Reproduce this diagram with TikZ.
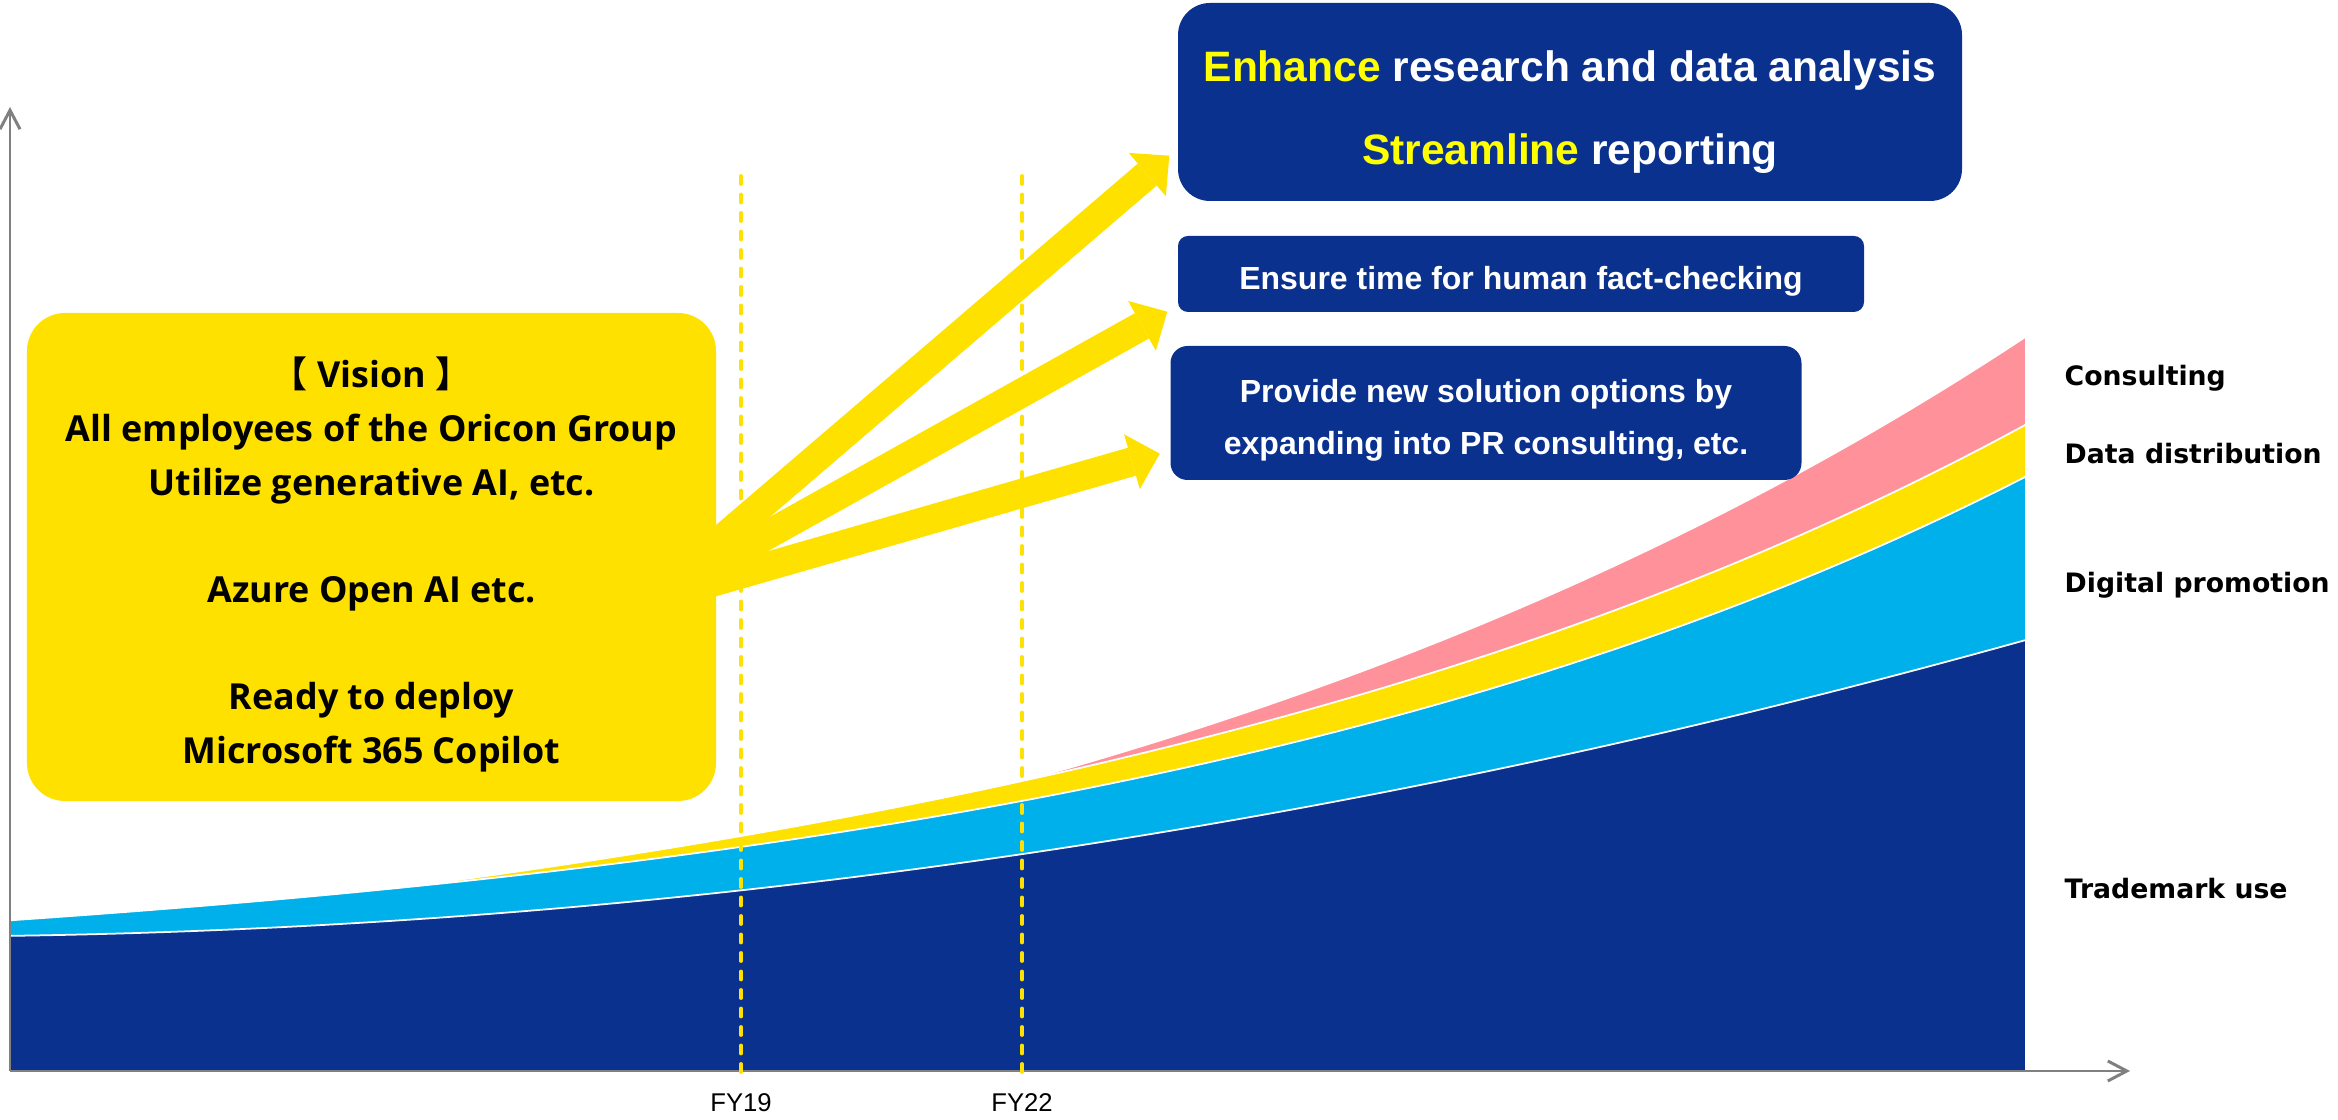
\documentclass[tikz,border=0pt]{standalone}
\usepackage{fontspec}
\usetikzlibrary{arrows.meta,calc}
\newfontfamily\visionfont{Open Sans}
\newfontfamily\cjkfont{Noto Sans CJK JP}
\newfontfamily\boxfont{Liberation Sans}
\newfontfamily\labfont{DejaVu Sans}
\definecolor{navy}{RGB}{11,49,143}
\definecolor{sky}{RGB}{0,176,234}
\definecolor{gold}{RGB}{255,225,0}
\definecolor{rose}{RGB}{255,145,155}
\definecolor{hiyellow}{RGB}{255,255,0}
\definecolor{axisgray}{RGB}{128,128,128}

\begin{document}
\begin{tikzpicture}
\tikzstyle{area}=[draw=white, line width=0.5pt]
\tikzstyle{visionbox}=[fill=gold, rounded corners=0.38cm, minimum width=6.89cm, minimum height=4.88cm, inner sep=0pt, align=center, font=\visionfont\bfseries\fontsize{10.2}{15.25}\selectfont]
\tikzstyle{bluebox}=[fill=navy, text=white, align=center, inner sep=0pt]
\tikzstyle{bigarrow}=[gold, line width=0.29cm, -{Triangle[width=0.57cm,length=0.29cm,line width=0pt]}]
\tikzstyle{yeardash}=[gold, line width=1.1pt, line cap=round, dash pattern=on 0.08cm off 0.105cm]
\tikzstyle{axis}=[axisgray, line width=0.85pt, -{Straight Barb[length=1.9mm,width=2mm]}]
\tikzstyle{seg}=[anchor=base west, inner sep=0pt, font=\labfont\bfseries\fontsize{7.6}{9}\selectfont]

\useasboundingbox (0,0) rectangle (23.38,11.20);

% stacked areas, back to front
\filldraw[area, fill=rose] plot[domain=10.25:20.26, samples=60] (\x,{1.315+0.675*exp(0.1*\x)+0.032*(\x-4)+0.0583*(\x-10.25)+0.00296*(\x-10.25)^2}) -- (20.26,0.49) -- (10.25,0.49) -- cycle;
\filldraw[area, fill=gold] plot[domain=4:20.26, samples=80] (\x,{1.315+0.675*exp(0.1*\x)+0.032*(\x-4)}) -- (20.26,0.49) -- (4,0.49) -- cycle;
\filldraw[area, fill=sky] plot[domain=0.1:20.26, samples=80] (\x,{1.315+0.675*exp(0.1*\x)}) -- (20.26,0.49) -- (0.1,0.49) -- cycle;
\filldraw[area, fill=navy] plot[domain=0.1:20.26, samples=80] (\x,{1.84+0.0129*\x+0.006576*\x*\x}) -- (20.26,0.49) -- (0.1,0.49) -- cycle;

% axes
\coordinate (origin) at (0.10,0.49);
\coordinate (ytop) at (0.10,10.13);
\coordinate (xend) at (21.30,0.49);
\draw[axis] (origin) -- (ytop);
\draw[axis] (origin) -- (xend);

% fiscal years
\foreach \x/\yr in {7.41/FY19, 10.22/FY22} {
\draw[yeardash] (\x,0.48) -- (\x,9.48);
\node[inner sep=0pt, font=\boxfont\fontsize{7.3}{8}\selectfont] (\yr) at (\x,0.17) {\yr};
}

% segments
\foreach \t/\y [count=\i] in {Consulting/7.34, Data distribution/6.56, Digital promotion/5.27, Trademark use/2.21} {
\node[seg] (lab\i) at (20.64,\y) {\t};
}

\node[visionbox] (vision) at (3.715,5.63) {\rule{0pt}{13pt}{\cjkfont\bfseries 【} Vision {\cjkfont\bfseries 】}\\ All employees of the Oricon Group\\ Utilize generative AI, etc.\\[15.25pt] Azure Open AI etc.\\[15.25pt] Ready to deploy\\ Microsoft 365 Copilot};

\node[bluebox, rounded corners=0.32cm, minimum width=7.84cm, minimum height=1.98cm, font=\boxfont\bfseries\fontsize{12.1}{23.6}\selectfont] (enh) at (15.70,10.18) {\rule{0pt}{14.7pt}\textcolor{hiyellow}{Enhance} research and data analysis\\ \textcolor{hiyellow}{Streamline} reporting};
\node[bluebox, rounded corners=0.1cm, minimum width=6.86cm, minimum height=0.76cm, font=\boxfont\bfseries\fontsize{9.1}{15}\selectfont] (chk) at (15.21,8.46) {\rule{0pt}{10.6pt}Ensure time for human fact-checking};
\node[bluebox, rounded corners=0.17cm, minimum width=6.31cm, minimum height=1.34cm, font=\boxfont\bfseries\fontsize{9.1}{15}\selectfont] (opt) at (14.86,7.07) {\rule{0pt}{10.8pt}Provide new solution options by\\ expanding into PR consulting, etc.};

\coordinate (hub) at ($(vision.east)+(-0.66,-0.43)$);
\draw[bigarrow] (hub) -- ($(enh.south west)+(-0.08,0.46)$);
\draw[bigarrow] (hub) -- ($(chk.south west)+(-0.10,0.01)$);
\draw[bigarrow] (hub) -- ($(opt.south west)+(-0.10,0.27)$);
\end{tikzpicture}
\end{document}
